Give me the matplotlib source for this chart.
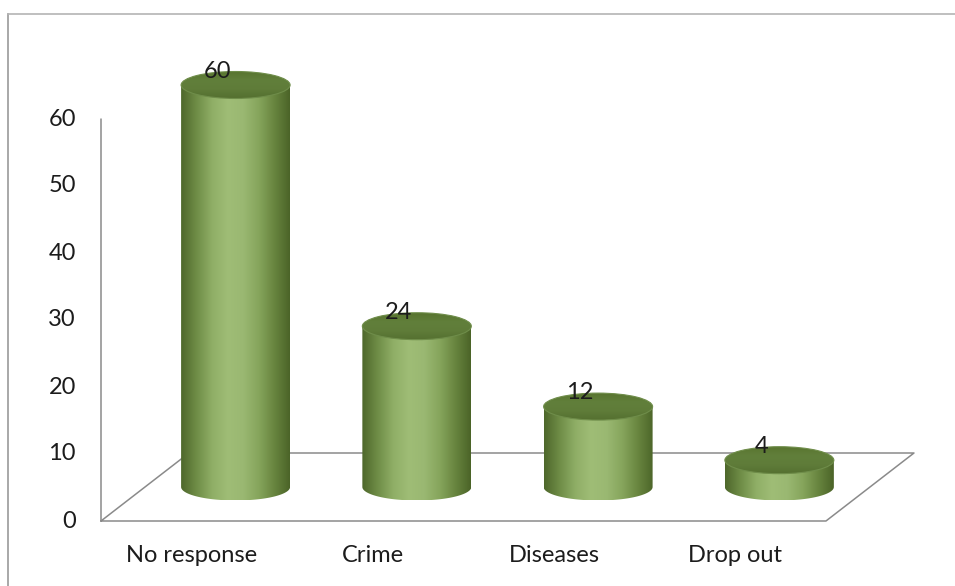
import numpy as np
import matplotlib
matplotlib.use("Agg")
import matplotlib.pyplot as plt
from matplotlib.path import Path
from matplotlib.patches import PathPatch, Ellipse
from matplotlib.colors import LinearSegmentedColormap

# ---- data ----
categories = ["No response", "Crime", "Diseases", "Drop out"]
values = [60, 24, 12, 4]
y_ticks = [0, 10, 20, 30, 40, 50, 60]

# ---- figure / coordinate frame ----
W, H = 955, 586
fig = plt.figure(figsize=(W / 100, H / 100), dpi=100)
ax = fig.add_axes([0, 0, 1, 1])
ax.set_axis_off()

px_per_unit_y = 6.7       # pixels per value unit
px_per_cat = 181.25       # pixels per category step
x0_px, y0_px = 191.6, 521  # position of category 0 / value 0 on the front plane
XLIM = (-x0_px / px_per_cat, (W - x0_px) / px_per_cat)
YLIM = (-(H - y0_px) / px_per_unit_y, y0_px / px_per_unit_y)
ax.set_xlim(*XLIM)
ax.set_ylim(*YLIM)

# depth of the 3-D floor (oblique projection)
DX = 88 / px_per_cat
DY = 68 / px_per_unit_y
RX = 54.5 / px_per_cat     # cylinder half-width
RY = 13.5 / px_per_unit_y  # cylinder ellipse half-height

line_kw = dict(color="#8a8a8a", lw=1.1, solid_capstyle="round")
n = len(categories)
xl, xr = -0.5, n - 0.5

# outer chart frame (left and top edges)
frame_x = XLIM[0] + 8 / px_per_cat
frame_y = YLIM[1] - 14 / px_per_unit_y
ax.plot([frame_x, frame_x], [YLIM[0], frame_y], color="#9a9a9a", lw=1.2)
ax.plot([frame_x, XLIM[1]], [frame_y, frame_y], color="#b4b4b4", lw=1.2)

# floor outline
ax.plot([xl, xr, xr + DX, xl + DX, xl], [0, 0, DY, DY, 0], **line_kw)
# value axis
ax.plot([xl, xl], [0, max(y_ticks)], **line_kw)

txt_kw = dict(fontsize=17, family="Lato", color="#1c1c1c")
for t in y_ticks:
    ax.text(xl - 25 / px_per_cat, t, str(t), ha="right", va="center", **txt_kw)

for i, c in enumerate(categories):
    ax.text(i, -34 / px_per_unit_y, c, ha="center", va="center", **txt_kw)

# shading maps
body_cmap = LinearSegmentedColormap.from_list(
    "body", ["#4e672b", "#6f8d47", "#8fae66", "#9fbd76", "#9ab872",
             "#86a55c", "#68853f", "#4b6428"])
top_cmap = LinearSegmentedColormap.from_list(
    "top", ["#557030", "#5f7c39", "#617f3b", "#58742f"])

grad = np.linspace(0, 1, 256)[None, :]

for i, v in enumerate(values):
    cx = i + DX / 2
    yb = DY / 2
    yt = yb + v
    # body outline: left side, lower half of base ellipse, right side
    th = np.linspace(np.pi, 2 * np.pi, 80)
    arc = np.column_stack([cx + RX * np.cos(th), yb + RY * np.sin(th)])
    verts = np.vstack([[cx - RX, yt], arc, [cx + RX, yt], [cx - RX, yt]])
    body = PathPatch(Path(verts), facecolor="none", edgecolor="none",
                     transform=ax.transData)
    ax.add_patch(body)
    im = ax.imshow(np.repeat(grad, 2, axis=0), cmap=body_cmap, aspect="auto",
                   extent=[cx - RX, cx + RX, yb - RY, yt], origin="lower",
                   interpolation="bicubic", zorder=2)
    im.set_clip_path(body)

    # top face
    top = Ellipse((cx, yt), 2 * RX, 2 * RY, facecolor="none", edgecolor="none",
                  transform=ax.transData, zorder=3)
    ax.add_patch(top)
    vgrad = np.linspace(0, 1, 64)[:, None] * np.ones((1, 64))
    imt = ax.imshow(vgrad, cmap=top_cmap, aspect="auto",
                    extent=[cx - RX, cx + RX, yt - RY, yt + RY], origin="lower",
                    interpolation="bicubic", zorder=3)
    imt.set_clip_path(top)
    ax.add_patch(Ellipse((cx, yt), 2 * RX, 2 * RY, facecolor="none",
                         edgecolor="#6f8d4a", lw=0.8, zorder=4))

    ax.text(cx - 18 / px_per_cat, yt + 14 / px_per_unit_y, str(v), ha="center",
            va="center", zorder=5, **txt_kw)

ax.set_xlim(*XLIM)
ax.set_ylim(*YLIM)
fig.savefig("out.png", dpi=100)
